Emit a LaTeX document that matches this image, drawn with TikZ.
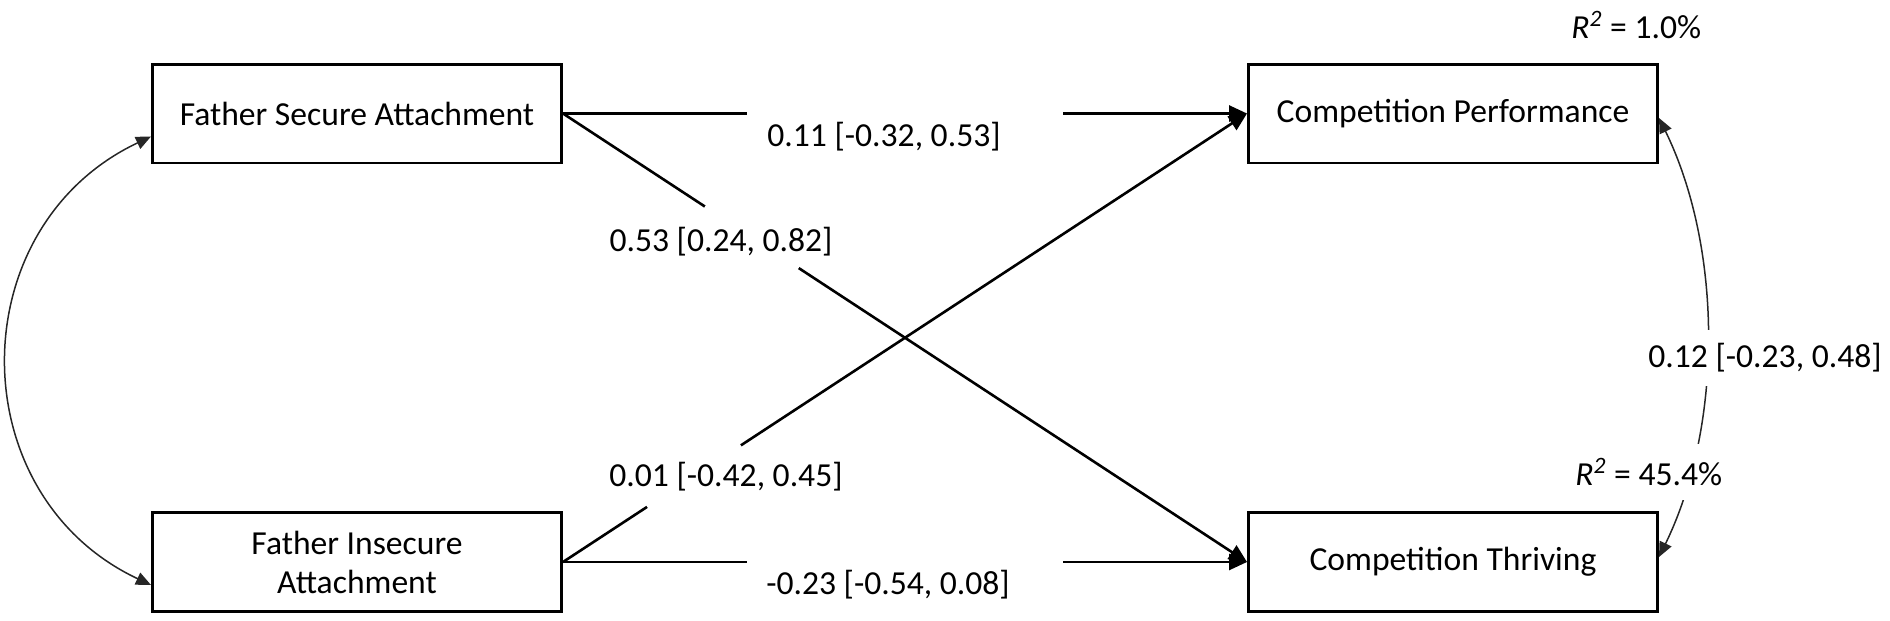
\documentclass[tikz,border=0pt]{standalone}
\usepackage{fontspec}
\setmainfont{Carlito}
\usetikzlibrary{arrows.meta}
\begin{document}
\begin{tikzpicture}[x=0.5pt,y=-0.5pt,
  box/.style={draw=black, line width=1.4pt, minimum width=204.6pt, minimum height=49.4pt, align=center, inner sep=0pt, font=\fontsize{16.8}{19.5}\selectfont},
  lbl/.style={font=\fontsize{16.8}{19.5}\selectfont, inner sep=0pt},
  reg/.style={line width=1.3pt, -{Triangle[length=9pt,width=8pt]}},
  cov/.style={fill=white, inner sep=0pt, minimum height=5pt, sloped},
  cor/.style={line width=0.75pt, black!85, {Triangle[length=7.5pt,width=6.5pt]}-{Triangle[length=7.5pt,width=6.5pt]}},
  covlbl/.style={lbl, fill=white, inner xsep=2pt, inner ysep=7pt},
]
\useasboundingbox (0,0) rectangle (1890,621);

\node[box] (fsa) at (357,113.5) {Father Secure Attachment};
\node[box] (fia) at (357,562) {Father Insecure\\Attachment};
\node[box] (cp) at (1453,113.5) {Competition Performance};
\node[box] (ct) at (1453,562) {Competition Thriving};

\draw[reg] (fsa.east) -- node[cov, pos=0.5, minimum width=158pt] (g1) {} (cp.west);
\draw[reg] (fsa.east) -- node[cov, pos=0.276, minimum width=56pt] (g2) {} (ct.west);
\draw[reg] (fia.east) -- node[cov, pos=0.1915, minimum width=56pt] (g3) {} (cp.west);
\draw[reg] (fia.east) -- node[cov, pos=0.5, minimum width=158pt] (g4) {} (ct.west);

\node[lbl] (l1) at (884,137) {0.11 [-0.32, 0.53]};
\node[lbl] (l2) at (721,242) {0.53 [0.24, 0.82]};
\node[lbl] (l3) at (726,477) {0.01 [-0.42, 0.45]};
\node[lbl] (l4) at (888,585) {-0.23 [-0.54, 0.08]};

\draw[cor] ([yshift=-11.5pt]fsa.west) .. controls (-40,227) and (-40,495) .. ([yshift=-11.5pt]fia.west);
\draw[cor] ([yshift=-2.25pt]cp.east) .. controls (1723,249) and (1723,426) .. ([yshift=2.5pt]ct.east);

\node[covlbl] (l5) at (1765,358) {0.12 [-0.23, 0.48]};
\node[covlbl, anchor=west] (r2) at (1571,472) {\textit{R\textsuperscript{2}} = 45.4\%};
\node[lbl, anchor=west] (r1) at (1571,25) {\textit{R\textsuperscript{2}} = 1.0\%};
\end{tikzpicture}
\end{document}
